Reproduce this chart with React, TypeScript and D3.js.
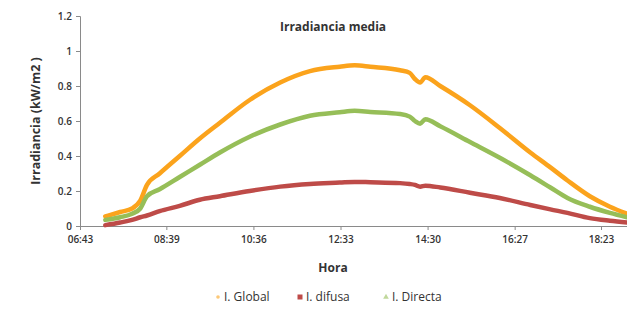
import React, { useEffect, useRef } from "react";
import * as d3 from "d3";

// hour of each sample (HH:MM)
const horas = [
  "07:17", "07:37", "07:53", "08:04", "08:13", "08:30", "08:57", "09:24", "09:51", "10:31",
  "11:12", "11:52", "12:32", "12:52", "13:13", "13:53", "14:06", "14:13", "14:20", "14:27",
  "14:47", "15:27", "16:07", "16:48", "17:15", "17:38", "18:08", "18:35", "18:58",
];
const global = [
  0.055, 0.08, 0.1, 0.145, 0.235, 0.3, 0.4, 0.5, 0.59, 0.72,
  0.82, 0.885, 0.91, 0.918, 0.91, 0.89, 0.875, 0.84, 0.82, 0.85,
  0.8, 0.69, 0.56, 0.42, 0.335, 0.26, 0.17, 0.11, 0.07,
];
const difusa = [
  0.005, 0.02, 0.035, 0.05, 0.06, 0.085, 0.115, 0.15, 0.17, 0.2,
  0.225, 0.24, 0.248, 0.252, 0.25, 0.245, 0.24, 0.235, 0.225, 0.23,
  0.22, 0.19, 0.16, 0.12, 0.095, 0.075, 0.045, 0.03, 0.02,
];
const directa = [
  0.035, 0.05, 0.07, 0.1, 0.17, 0.21, 0.28, 0.35, 0.42, 0.51,
  0.58, 0.63, 0.65, 0.658, 0.652, 0.64, 0.625, 0.6, 0.585, 0.61,
  0.57, 0.48, 0.39, 0.29, 0.22, 0.16, 0.11, 0.075, 0.05,
];
const xTicks = ["06:43", "08:39", "10:36", "12:33", "14:30", "16:27", "18:23"];
const yTicks = [0, 0.2, 0.4, 0.6, 0.8, 1, 1.2];

const toMin = (s: string) => {
  const [h, m] = s.split(":").map(Number);
  return h * 60 + m;
};

const series = [
  { name: "I. Global", values: global, color: "#FBA31C", marker: "dot" },
  { name: "I. difusa", values: difusa, color: "#BE4B48", marker: "square" },
  { name: "I. Directa", values: directa, color: "#96BE58", marker: "triangle" },
];

export default function App() {
  const svgRef = useRef<SVGSVGElement | null>(null);

  useEffect(() => {
    const svg = d3.select(svgRef.current);
    svg.selectAll("*").remove();

    const width = 627, height = 312;
    const left = 80, right = 627, top = 16, bottom = 226;
    const font = "'Open Sans', 'DejaVu Sans', sans-serif";

    svg.append("rect").attr("width", width).attr("height", height).attr("fill", "#fff");

    const x = d3.scaleLinear().domain([toMin("06:43"), toMin("18:23")]).range([80, 601]);
    const y = d3.scaleLinear().domain([0, 1.2]).range([bottom, top]);

    // axes
    const yAxis = svg.append("g")
      .attr("transform", `translate(${left},0)`)
      .call(d3.axisLeft(y).tickValues(yTicks).tickSize(4).tickPadding(4)
        .tickFormat(d => String(d)));
    const xAxis = svg.append("g")
      .attr("transform", `translate(0,${bottom})`)
      .call(d3.axisBottom(x).tickValues(xTicks.map(toMin)).tickSize(4).tickPadding(6)
        .tickFormat((d, i) => xTicks[i]));
    xAxis.select(".domain").attr("d", `M${left},0.5H${right}`);
    [xAxis, yAxis].forEach(g => {
      g.select(".domain").attr("stroke", "#8a8a8a");
      g.selectAll(".tick line").attr("stroke", "#8a8a8a");
      g.selectAll(".tick text")
        .attr("font-family", font)
        .attr("font-size", 10)
        .attr("font-weight", 600)
        .attr("fill", "#333");
    });

    // lines
    const line = d3.line<number>()
      .x((d, i) => x(toMin(horas[i])))
      .y(d => y(d))
      .curve(d3.curveMonotoneX);

    series.forEach(s => {
      svg.append("path")
        .attr("d", line(s.values))
        .attr("fill", "none")
        .attr("stroke", s.color)
        .attr("stroke-width", 4.5)
        .attr("stroke-linejoin", "round")
        .attr("stroke-linecap", "round");
    });

    // titles
    svg.append("text")
      .attr("x", 333).attr("y", 31)
      .attr("text-anchor", "middle")
      .attr("font-family", font).attr("font-size", 12).attr("font-weight", 700)
      .attr("fill", "#333")
      .text("Irradiancia media");
    svg.append("text")
      .attr("transform", `translate(40,${(top + bottom) / 2}) rotate(-90)`)
      .attr("text-anchor", "middle")
      .attr("font-family", font).attr("font-size", 12.5).attr("font-weight", 700)
      .attr("fill", "#333")
      .text("Irradiancia (kW/m2 )");
    svg.append("text")
      .attr("x", 333).attr("y", 272)
      .attr("text-anchor", "middle")
      .attr("font-family", font).attr("font-size", 12).attr("font-weight", 700)
      .attr("fill", "#333")
      .text("Hora");

    // legend
    const legendX = [218, 300, 386];
    series.forEach((s, i) => {
      const g = svg.append("g").attr("transform", `translate(${legendX[i]},297)`);
      if (s.marker === "dot") {
        g.append("circle").attr("cx", 0).attr("cy", 0).attr("r", 1.8).attr("fill", s.color).attr("opacity", 0.6);
      } else if (s.marker === "square") {
        g.append("rect").attr("x", -2.5).attr("y", -2.5).attr("width", 5).attr("height", 5).attr("fill", s.color);
      } else {
        g.append("path").attr("d", d3.symbol(d3.symbolTriangle, 14)()).attr("fill", s.color).attr("opacity", 0.6);
      }
      g.append("text")
        .attr("x", 6).attr("y", 4)
        .attr("font-family", font).attr("font-size", 12)
        .attr("fill", "#333")
        .text(s.name);
    });
  }, []);

  return (
    <svg ref={svgRef} width={627} height={312}
      style={{ display: "block", position: "absolute", left: 0, top: 0 }}></svg>
  );
}
